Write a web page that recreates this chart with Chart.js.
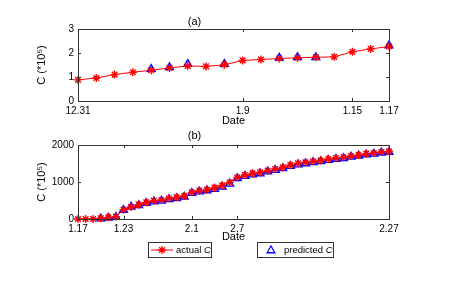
<!DOCTYPE html>
<html>
<head>
<meta charset="utf-8">
<script src="https://cdn.jsdelivr.net/npm/chart.js@4.4.1/dist/chart.umd.min.js"></script>
<style>
  body { margin: 0; background: #fff; }
  #wrap { position: relative; width: 472px; height: 286px; }
  canvas { position: absolute; left: 0; }
  #topChart { top: 0; }
  #bottomChart { top: 128px; }
</style>
</head>
<body>
<div id="wrap">
  <canvas id="topChart" width="472" height="128"></canvas>
  <canvas id="bottomChart" width="472" height="158"></canvas>
</div>
<script>
'use strict';

// data for panel (a)
let datesA = ['12.31', '1.1', '1.2', '1.3', '1.4', '1.5', '1.6', '1.7', '1.8', '1.9',
  '1.10', '1.11', '1.12', '1.13', '1.14', '1.15', '1.16', '1.17'];
let tickLabelsA = ['12.31', '1.9', '1.15', '1.17'];
let actualA = [0.88, 0.96, 1.10, 1.20, 1.28, 1.38, 1.46, 1.44, 1.51, 1.69,
  1.73, 1.77, 1.80, 1.82, 1.84, 2.05, 2.17, 2.27];
let predictedA = [null, null, null, null, 1.33, 1.40, 1.54, null, 1.54, null,
  null, 1.80, 1.82, 1.82, null, null, null, 2.31];

// data for panel (b)
let datesB = ['1.17', '1.18', '1.19', '1.20', '1.21', '1.22', '1.23', '1.24', '1.25', '1.26',
  '1.27', '1.28', '1.29', '1.30', '1.31', '2.1', '2.2', '2.3', '2.4', '2.5', '2.6', '2.7',
  '2.8', '2.9', '2.10', '2.11', '2.12', '2.13', '2.14', '2.15', '2.16', '2.17', '2.18',
  '2.19', '2.20', '2.21', '2.22', '2.23', '2.24', '2.25', '2.26', '2.27'];
let tickLabelsB = ['1.17', '1.23', '2.1', '2.7', '2.27'];
let actualB = [0, 0, 0, 18, 45, 63, 252, 324, 387, 450, 495, 513, 559, 585, 621, 720,
  766, 793, 847, 910, 991, 1126, 1189, 1234, 1261, 1306, 1351, 1396, 1459, 1504, 1532,
  1559, 1586, 1622, 1649, 1667, 1703, 1730, 1766, 1784, 1811, 1829];
let predictedB = [null, null, null, 10, 30, 50, 240, 330, 370, 430, 470, 490, 530, 560,
  600, 700, 740, 770, 810, 870, 950, 1100, 1160, 1200, 1230, 1280, 1320, 1370, 1430,
  1470, 1500, 1530, 1560, 1590, 1620, 1640, 1680, 1710, 1740, 1760, 1790, 1810];

let fontName = '"Liberation Sans", Arial, sans-serif';
let axisColor = '#333333';

// box round the plot with inward ticks, like the original figure
let boxPlugin = {
  id: 'boxAxes',
  afterDraw(chart) {
    let ctx = chart.ctx;
    let area = chart.chartArea;
    let len = 3;
    ctx.save();
    ctx.strokeStyle = axisColor;
    ctx.lineWidth = 1;
    ctx.strokeRect(Math.round(area.left) + 0.5, Math.round(area.top) + 0.5,
      Math.round(area.right - area.left), Math.round(area.bottom - area.top));
    ctx.beginPath();
    let xs = chart.scales.x;
    for (let i = 0; i < xs.ticks.length; i++) {
      if (xs.ticks[i].label === null || xs.ticks[i].label === undefined) continue;
      let px = Math.round(xs.getPixelForTick(i)) + 0.5;
      ctx.moveTo(px, area.bottom);
      ctx.lineTo(px, area.bottom - len);
      ctx.moveTo(px, area.top);
      ctx.lineTo(px, area.top + len);
    }
    let ys = chart.scales.y;
    for (let i = 0; i < ys.ticks.length; i++) {
      let py = Math.round(ys.getPixelForTick(i)) + 0.5;
      ctx.moveTo(area.left, py);
      ctx.lineTo(area.left + len, py);
      ctx.moveTo(area.right, py);
      ctx.lineTo(area.right - len, py);
    }
    ctx.stroke();
    ctx.restore();
  },
};

// two separate boxed legend entries under panel (b)
let legendPlugin = {
  id: 'boxLegend',
  afterDraw(chart) {
    if (!chart.options.plugins.boxLegend) return;
    let ctx = chart.ctx;
    let top = 114;
    let h = 15;
    let cy = top + h / 2 + 0.5;
    ctx.save();
    ctx.strokeStyle = axisColor;
    ctx.lineWidth = 1;
    ctx.strokeRect(148.5, top + 0.5, 63, h);
    ctx.strokeRect(257.5, top + 0.5, 76, h);

    ctx.strokeStyle = '#ff0000';
    ctx.beginPath();
    ctx.moveTo(151, cy);
    ctx.lineTo(173, cy);
    ctx.stroke();
    ctx.fillStyle = 'rgba(0,0,0,0)';
    ctx.lineWidth = 1.3;
    Chart.helpers.drawPoint(ctx, {pointStyle: 'star', radius: 4, borderWidth: 1.3}, 162, cy);
    ctx.strokeStyle = '#0000ff';
    Chart.helpers.drawPoint(ctx, {pointStyle: 'triangle', radius: 4.5, borderWidth: 1.3}, 271, cy + 0.5);

    ctx.fillStyle = '#000';
    ctx.textBaseline = 'middle';
    ctx.font = '9.5px ' + fontName;
    ctx.fillText('actual ', 176, cy);
    let w1 = ctx.measureText('actual ').width;
    ctx.fillText('predicted ', 284, cy);
    let w2 = ctx.measureText('predicted ').width;
    ctx.font = 'italic 9.5px ' + fontName;
    ctx.fillText('C', 176 + w1, cy);
    ctx.fillText('C', 284 + w2, cy);
    ctx.restore();
  },
};

function makeConfig(dates, tickLabels, actual, predicted, title, yMax, yStep, pad, xHeight, showLegend) {
  return {
    type: 'line',
    data: {
      labels: dates,
      datasets: [
        {
          label: 'actual C',
          data: actual,
          borderColor: '#ff0000',
          backgroundColor: '#ff0000',
          borderWidth: 1,
          pointStyle: 'star',
          pointRadius: 4,
          pointBorderWidth: 1.4,
          pointBorderColor: '#ff0000',
          clip: false,
        },
        {
          label: 'predicted C',
          data: predicted,
          showLine: false,
          borderColor: '#0000ff',
          backgroundColor: 'rgba(0,0,0,0)',
          pointStyle: 'triangle',
          pointRadius: 4.5,
          pointBorderWidth: 1.4,
          pointBorderColor: '#0000ff',
          pointBackgroundColor: 'rgba(0,0,0,0)',
          clip: false,
        },
      ],
    },
    options: {
      responsive: false,
      animation: false,
      events: [],
      layout: {
        padding: pad,
      },
      plugins: {
        legend: {display: false},
        tooltip: {enabled: false},
        boxLegend: showLegend,
        title: {
          display: true,
          text: title,
          color: '#000',
          font: {family: fontName, size: 11, weight: 'normal'},
          padding: pad.titlePad,
        },
      },
      scales: {
        x: {
          type: 'category',
          grid: {display: false, drawTicks: false},
          border: {display: false},
          afterFit: (s) => { s.height = xHeight; },
          ticks: {
            autoSkip: false,
            maxRotation: 0,
            padding: 4,
            color: '#000',
            font: {family: fontName, size: 10},
            callback: function (value, index) {
              let lab = this.getLabelForValue(value);
              return tickLabels.includes(lab) ? lab : null;
            },
          },
          title: {
            display: true,
            text: 'Date',
            color: '#000',
            font: {family: fontName, size: 11},
            padding: {top: 0, bottom: 0},
          },
        },
        y: {
          min: 0,
          max: yMax,
          grid: {display: false, drawTicks: false},
          border: {display: false},
          afterFit: (s) => { s.width = 78; },
          ticks: {
            stepSize: yStep,
            padding: 4,
            color: '#000',
            font: {family: fontName, size: 10},
            callback: (value) => String(value),
          },
          title: {
            display: true,
            text: 'C (*10⁵)',
            color: '#000',
            font: {family: fontName, size: 11},
            padding: {top: 35, bottom: 0},
          },
        },
      },
    },
    plugins: [boxPlugin, legendPlugin],
  };
}

let topConfig = makeConfig(datesA, tickLabelsA, actualA, predictedA, '(a)', 3, 1,
  {left: 0, right: 83, top: 13.8, bottom: 0, titlePad: {top: 2, bottom: 0}}, 27, false);
let bottomConfig = makeConfig(datesB, tickLabelsB, actualB, predictedB, '(b)', 2000, 1000,
  {left: 0, right: 83, top: 1.8, bottom: 42, titlePad: {top: 0, bottom: 2}}, 25, true);

let topChart = new Chart(document.getElementById('topChart'), topConfig);
let bottomChart = new Chart(document.getElementById('bottomChart'), bottomConfig);
</script>
</body>
</html>
